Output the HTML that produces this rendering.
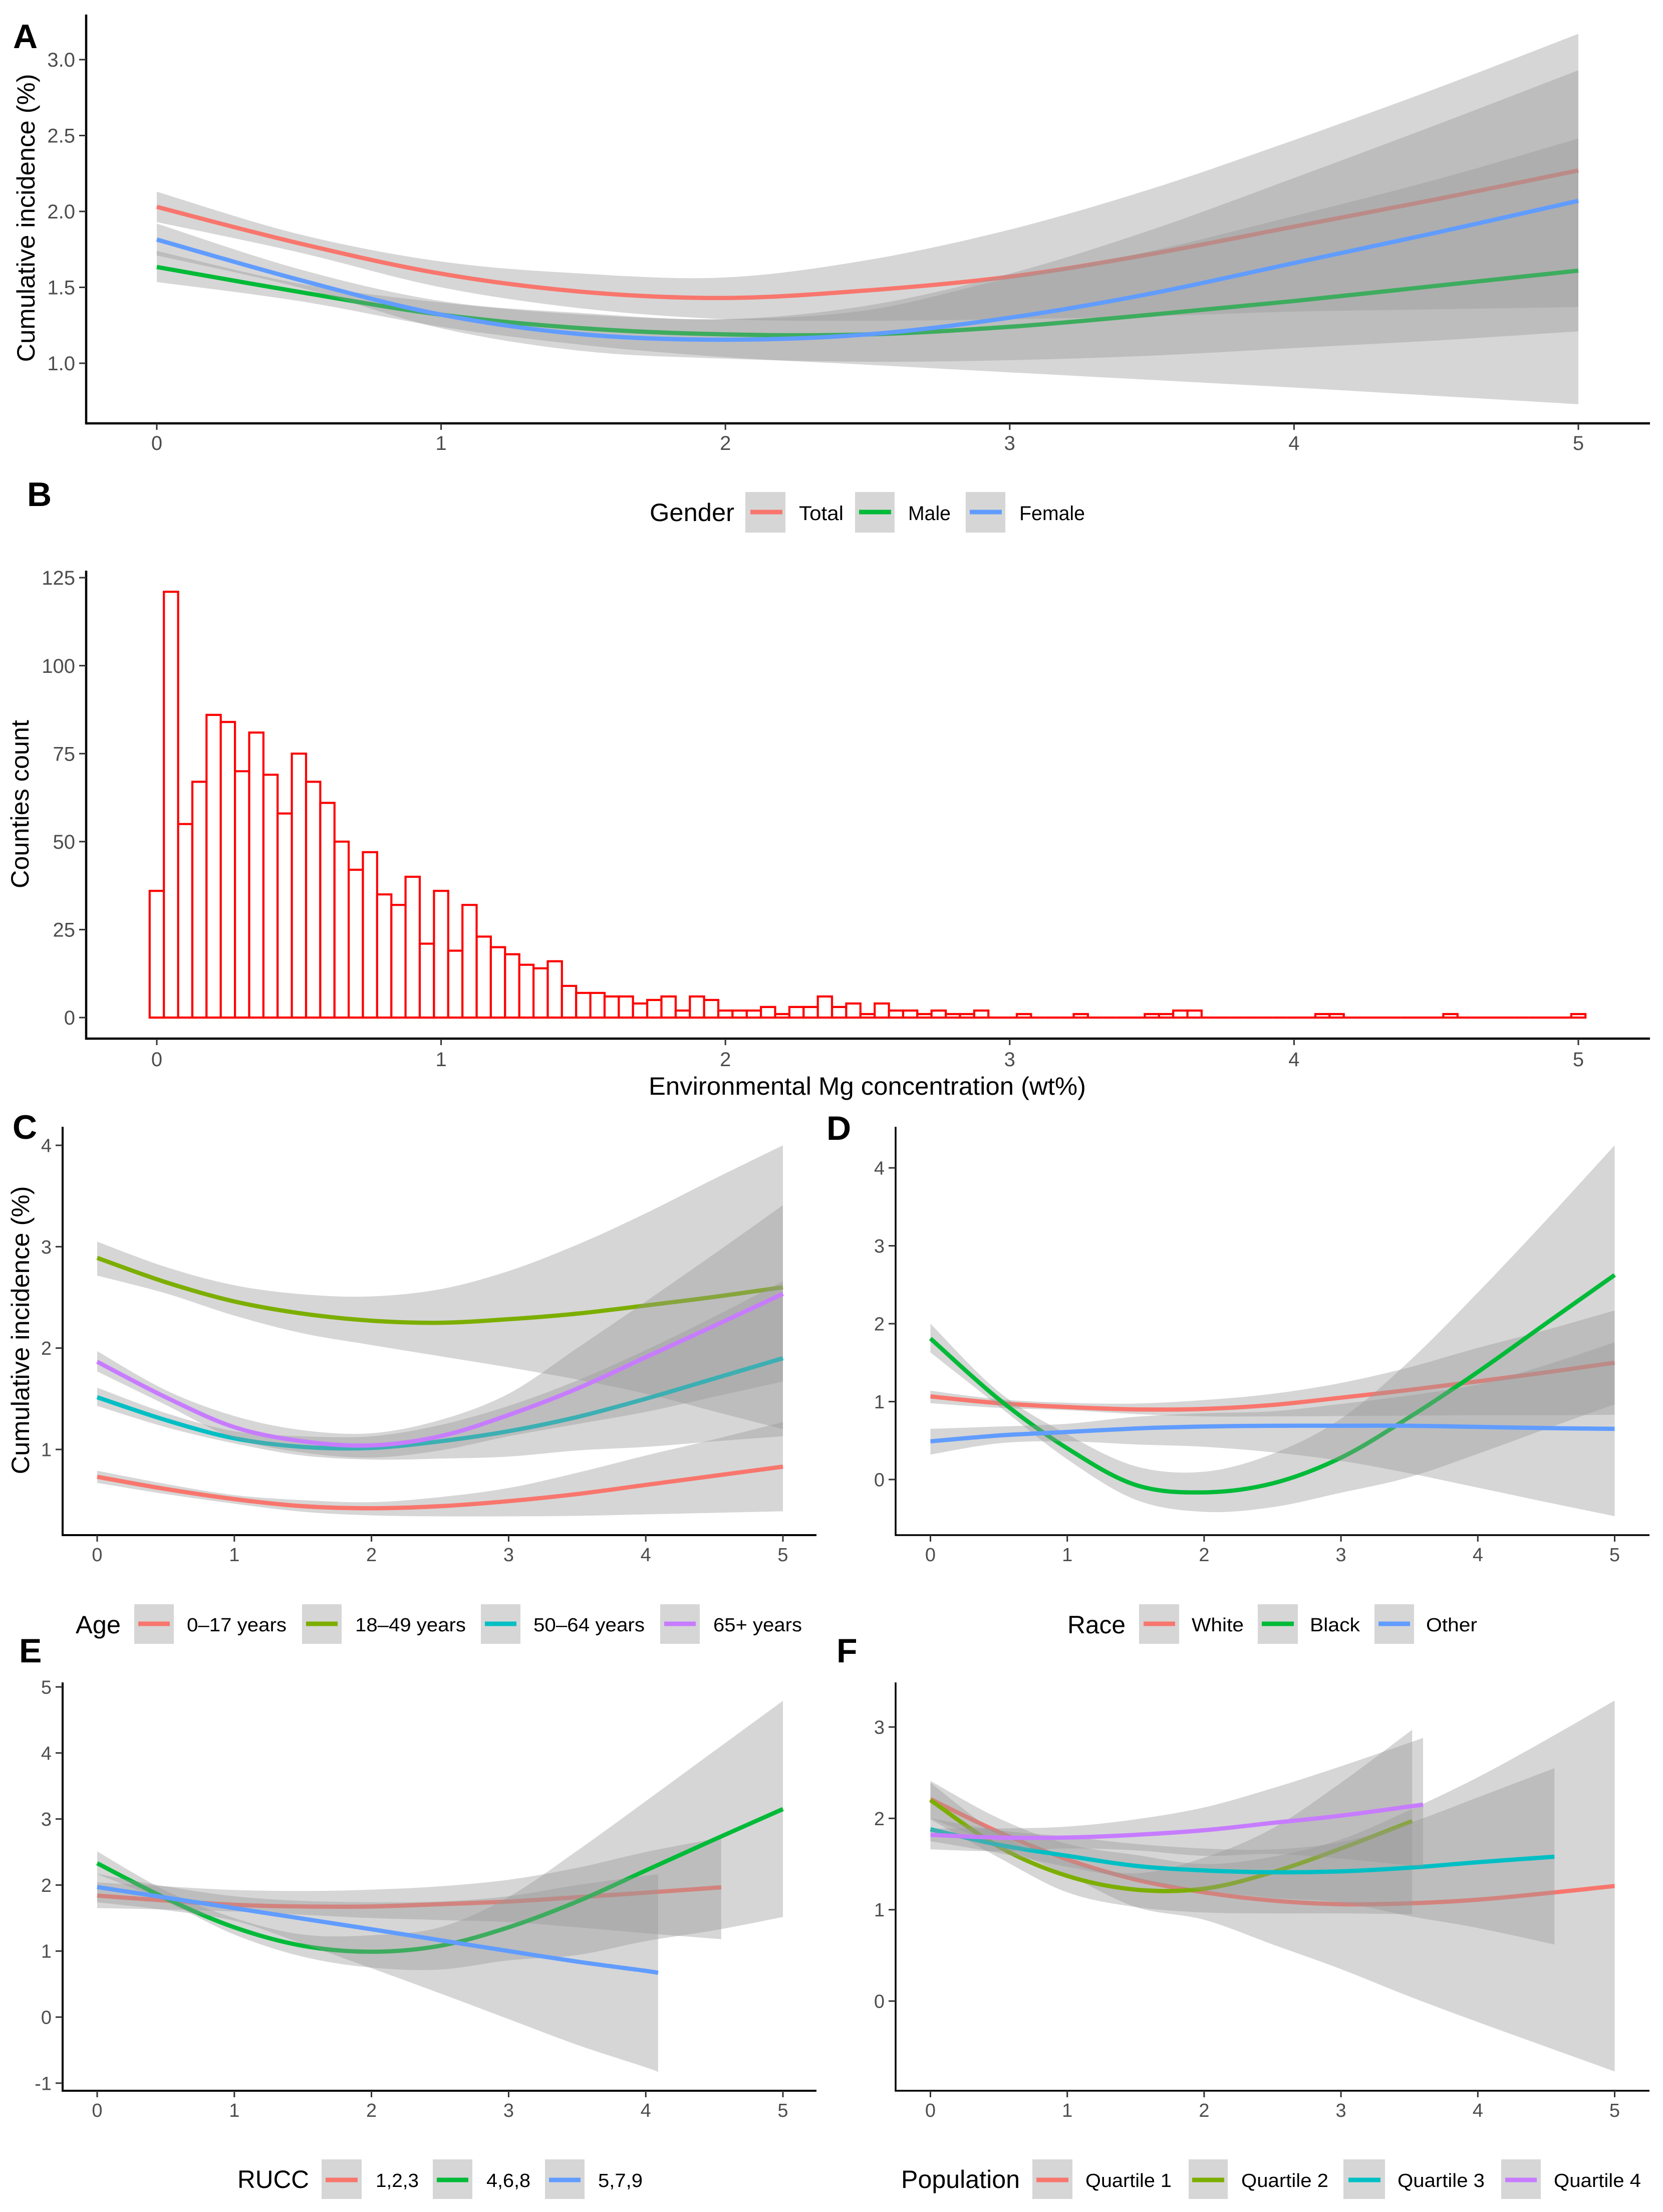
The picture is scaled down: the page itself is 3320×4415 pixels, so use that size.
<!DOCTYPE html>
<html>
<head>
<meta charset="utf-8">
<title>Cumulative incidence and environmental Mg concentration</title>
<style>
html,body{margin:0;padding:0;background:#fff;}
svg{display:block;}
text{font-family:"Liberation Sans",Arial,sans-serif;}
.t{font-size:50px;fill:#000;}
.p{font-size:68px;font-weight:bold;fill:#000;}
.k{fill:#d6d6d6;}
.l{font-size:40px;fill:#000;}
.m{font-size:38px;fill:#000;}
</style>
</head>
<body>
<svg id="figure" xmlns="http://www.w3.org/2000/svg" width="3320" height="4415" viewBox="0 0 3320 4415">
<rect x="0" y="0" width="3320" height="4415" fill="#fff"/>
<g id="plots"></g>

<text class="p" x="26" y="96">A</text>
<text class="p" x="54" y="1010">B</text>
<text class="p" x="25" y="2273">C</text>
<text class="p" x="1650" y="2275">D</text>
<text class="p" x="38" y="3318">E</text>
<text class="p" x="1670" y="3318">F</text>

<text class="t" transform="translate(69,435) rotate(-90)" text-anchor="middle" textLength="575" lengthAdjust="spacingAndGlyphs">Cumulative incidence (%)</text>
<text class="t" transform="translate(57,1605) rotate(-90)" text-anchor="middle" textLength="336" lengthAdjust="spacingAndGlyphs">Counties count</text>
<text class="t" x="1295" y="2185" textLength="873" lengthAdjust="spacingAndGlyphs">Environmental Mg concentration (wt%)</text>
<text class="t" transform="translate(58,2655) rotate(-90)" text-anchor="middle" textLength="575" lengthAdjust="spacingAndGlyphs">Cumulative incidence (%)</text>

<g>
<text class="t" x="1297" y="1040" textLength="169" lengthAdjust="spacingAndGlyphs">Gender</text>
<g><rect class="k" x="1488" y="982" width="80" height="81"/><line x1="1498" x2="1562" y1="1022" y2="1022" stroke="#F8766D" stroke-width="9"/><text class="l" x="1595" y="1038" textLength="89" lengthAdjust="spacingAndGlyphs">Total</text></g>
<g><rect class="k" x="1707" y="982" width="79" height="81"/><line x1="1715" x2="1779" y1="1022" y2="1022" stroke="#00BA38" stroke-width="9"/><text class="l" x="1813" y="1038" textLength="85" lengthAdjust="spacingAndGlyphs">Male</text></g>
<g><rect class="k" x="1928" y="982" width="79" height="81"/><line x1="1936" x2="2000" y1="1022" y2="1022" stroke="#619CFF" stroke-width="9"/><text class="l" x="2035" y="1038" textLength="131" lengthAdjust="spacingAndGlyphs">Female</text></g>
</g>

<g>
<text class="t" x="151" y="3260" textLength="90" lengthAdjust="spacingAndGlyphs">Age</text>
<g><rect class="k" x="268" y="3202" width="79" height="79"/><line x1="276" x2="339" y1="3241" y2="3241" stroke="#F8766D" stroke-width="9"/><text class="m" x="373" y="3256" textLength="199" lengthAdjust="spacingAndGlyphs">0–17 years</text></g>
<g><rect class="k" x="603" y="3202" width="79" height="79"/><line x1="611" x2="674" y1="3241" y2="3241" stroke="#7CAE00" stroke-width="9"/><text class="m" x="709" y="3256" textLength="221" lengthAdjust="spacingAndGlyphs">18–49 years</text></g>
<g><rect class="k" x="960" y="3202" width="79" height="79"/><line x1="968" x2="1031" y1="3241" y2="3241" stroke="#00BFC4" stroke-width="9"/><text class="m" x="1065" y="3256" textLength="222" lengthAdjust="spacingAndGlyphs">50–64 years</text></g>
<g><rect class="k" x="1318" y="3202" width="79" height="79"/><line x1="1326" x2="1389" y1="3241" y2="3241" stroke="#C77CFF" stroke-width="9"/><text class="m" x="1424" y="3256" textLength="177" lengthAdjust="spacingAndGlyphs">65+ years</text></g>
</g>

<g>
<text class="t" x="2131" y="3260" textLength="116" lengthAdjust="spacingAndGlyphs">Race</text>
<g><rect class="k" x="2274" y="3202" width="80" height="79"/><line x1="2283" x2="2346" y1="3241" y2="3241" stroke="#F8766D" stroke-width="9"/><text class="m" x="2379" y="3256" textLength="104" lengthAdjust="spacingAndGlyphs">White</text></g>
<g><rect class="k" x="2511" y="3202" width="80" height="79"/><line x1="2519" x2="2583" y1="3241" y2="3241" stroke="#00BA38" stroke-width="9"/><text class="m" x="2615" y="3256" textLength="100" lengthAdjust="spacingAndGlyphs">Black</text></g>
<g><rect class="k" x="2744" y="3202" width="79" height="79"/><line x1="2752" x2="2815" y1="3241" y2="3241" stroke="#619CFF" stroke-width="9"/><text class="m" x="2847" y="3256" textLength="102" lengthAdjust="spacingAndGlyphs">Other</text></g>
</g>

<g>
<text class="t" x="474" y="4367" textLength="143" lengthAdjust="spacingAndGlyphs">RUCC</text>
<g><rect class="k" x="642" y="4310" width="80" height="79"/><line x1="650" x2="714" y1="4351" y2="4351" stroke="#F8766D" stroke-width="9"/><text class="m" x="750" y="4365" textLength="86" lengthAdjust="spacingAndGlyphs">1,2,3</text></g>
<g><rect class="k" x="864" y="4310" width="79" height="79"/><line x1="872" x2="935" y1="4351" y2="4351" stroke="#00BA38" stroke-width="9"/><text class="m" x="971" y="4365" textLength="88" lengthAdjust="spacingAndGlyphs">4,6,8</text></g>
<g><rect class="k" x="1088" y="4310" width="79" height="79"/><line x1="1096" x2="1159" y1="4351" y2="4351" stroke="#619CFF" stroke-width="9"/><text class="m" x="1194" y="4365" textLength="89" lengthAdjust="spacingAndGlyphs">5,7,9</text></g>
</g>

<g>
<text class="t" x="1799" y="4367" textLength="237" lengthAdjust="spacingAndGlyphs">Population</text>
<g><rect class="k" x="2061" y="4310" width="80" height="79"/><line x1="2069" x2="2133" y1="4351" y2="4351" stroke="#F8766D" stroke-width="9"/><text class="m" x="2167" y="4365" textLength="172" lengthAdjust="spacingAndGlyphs">Quartile 1</text></g>
<g><rect class="k" x="2373" y="4310" width="78" height="79"/><line x1="2380" x2="2444" y1="4351" y2="4351" stroke="#7CAE00" stroke-width="9"/><text class="m" x="2478" y="4365" textLength="174" lengthAdjust="spacingAndGlyphs">Quartile 2</text></g>
<g><rect class="k" x="2682" y="4310" width="83" height="79"/><line x1="2692" x2="2756" y1="4351" y2="4351" stroke="#00BFC4" stroke-width="9"/><text class="m" x="2790" y="4365" textLength="174" lengthAdjust="spacingAndGlyphs">Quartile 3</text></g>
<g><rect class="k" x="2997" y="4310" width="79" height="79"/><line x1="3005" x2="3068" y1="4351" y2="4351" stroke="#C77CFF" stroke-width="9"/><text class="m" x="3102" y="4365" textLength="174" lengthAdjust="spacingAndGlyphs">Quartile 4</text></g>
</g>
</svg>

<script>
// Shared axis data
const xTickValues = [0, 1, 2, 3, 4, 5];
const xTickLabels = ['0', '1', '2', '3', '4', '5'];
const xFull = [0, 0.5, 1, 1.5, 2, 2.5, 3, 3.5, 4, 4.5, 5];

// Panel A: gender
const aYTicks = [1, 1.5, 2, 2.5, 3];
const aYLabels = ['1.0', '1.5', '2.0', '2.5', '3.0'];
const aTotalLine = [2.03, 1.79, 1.59, 1.47, 1.43, 1.48, 1.57, 1.72, 1.90, 2.08, 2.27];
const aTotalHi = [2.13, 1.85, 1.67, 1.59, 1.565, 1.68, 1.88, 2.15, 2.47, 2.81, 3.17];
const aTotalLo = [1.93, 1.73, 1.50, 1.36, 1.29, 1.28, 1.29, 1.31, 1.34, 1.355, 1.37];
const aMaleLine = [1.634, 1.47, 1.32, 1.23, 1.19, 1.19, 1.24, 1.32, 1.41, 1.51, 1.61];
const aMaleHi = [1.74, 1.525, 1.40, 1.32, 1.29, 1.35, 1.56, 1.74, 1.97, 2.21, 2.48];
const aMaleLo = [1.535, 1.41, 1.24, 1.12, 1.04, 0.99, 0.94, 0.89, 0.84, 0.785, 0.73];
const aFemaleLine = [1.815, 1.55, 1.32, 1.19, 1.155, 1.19, 1.30, 1.46, 1.66, 1.86, 2.07];
const aFemaleHi = [1.92, 1.62, 1.41, 1.33, 1.29, 1.38, 1.59, 1.88, 2.22, 2.57, 2.93];
const aFemaleLo = [1.71, 1.50, 1.23, 1.08, 1.03, 1.01, 1.02, 1.05, 1.10, 1.15, 1.21];

// Panel B: histogram
const bYTicks = [0, 25, 50, 75, 100, 125];
const bYLabels = ['0', '25', '50', '75', '100', '125'];
const bBinWidth = 0.05;
const bCounts = [36,121,55,67,86,84,70,81,69,58,75,67,61,50,42,47,35,32,40,21,36,19,32,23,20,18,15,14,16,9,
  7,7,6,6,4,5,6,2,6,5,2,2,2,3,1,3,3,6,3,4,1,4,2,2,1,2,1,1,2,0,
  0,1,0,0,0,1,0,0,0,0,1,1,2,2,0,0,0,0,0,0,0,0,1,1,0,0,0,0,0,0,0,1,0,0,0,0,0,0,0,0,1];

// Panel C: age
const cYTicks = [1, 2, 3, 4];
const cYLabels = ['1', '2', '3', '4'];
const cYoungLine = [0.73, 0.61, 0.51, 0.44, 0.42, 0.44, 0.49, 0.56, 0.65, 0.74, 0.83];
const cYoungHi = [0.79, 0.66, 0.55, 0.50, 0.48, 0.53, 0.62, 0.77, 0.94, 1.10, 1.27];
const cYoungLo = [0.67, 0.56, 0.465, 0.385, 0.35, 0.34, 0.34, 0.345, 0.36, 0.375, 0.39];
const cAdultLine = [2.89, 2.65, 2.46, 2.34, 2.27, 2.25, 2.285, 2.34, 2.42, 2.505, 2.60];
const cAdultHi = [3.05, 2.80, 2.62, 2.53, 2.51, 2.58, 2.76, 3.02, 3.33, 3.67, 4.0];
const cAdultLo = [2.715, 2.54, 2.32, 2.145, 2.03, 1.92, 1.81, 1.69, 1.55, 1.375, 1.20];
const cMidLine = [1.515, 1.29, 1.11, 1.025, 1.015, 1.08, 1.18, 1.32, 1.50, 1.70, 1.90];
const cMidHi = [1.61, 1.36, 1.18, 1.13, 1.13, 1.24, 1.43, 1.68, 1.98, 2.31, 2.66];
const cMidLo = [1.43, 1.22, 1.06, 0.94, 0.90, 0.91, 0.93, 0.99, 1.025, 1.08, 1.13];
const cOldLine = [1.865, 1.515, 1.22, 1.08, 1.04, 1.13, 1.34, 1.60, 1.91, 2.22, 2.535];
const cOldHi = [1.97, 1.585, 1.33, 1.19, 1.16, 1.29, 1.55, 2.0, 2.46, 2.93, 3.41];
const cOldLo = [1.77, 1.44, 1.11, 0.97, 0.92, 0.99, 1.13, 1.25, 1.37, 1.52, 1.67];

// Panel D: race
const dYTicks = [0, 1, 2, 3, 4];
const dYLabels = ['0', '1', '2', '3', '4'];
const dWhiteLine = [1.066, 0.98, 0.93, 0.90, 0.906, 0.957, 1.05, 1.15, 1.26, 1.375, 1.50];
const dWhiteHi = [1.14, 1.03, 0.985, 0.975, 1.02, 1.10, 1.24, 1.44, 1.69, 1.92, 2.17];
const dWhiteLo = [0.98, 0.92, 0.89, 0.84, 0.81, 0.81, 0.815, 0.82, 0.825, 0.825, 0.83];
const dBlackLine = [1.81, 1.03, 0.40, -0.07, -0.165, -0.05, 0.28, 0.80, 1.38, 2.005, 2.625];
const dBlackHi = [2.0, 1.125, 0.58, 0.17, 0.10, 0.33, 0.78, 1.52, 2.40, 3.33, 4.29];
const dBlackLo = [1.63, 0.94, 0.26, -0.26, -0.415, -0.355, -0.17, 0.03, 0.33, 0.65, 0.965];
const dOtherLine = [0.49, 0.565, 0.61, 0.655, 0.68, 0.69, 0.69, 0.69, 0.675, 0.66, 0.65];
const dOtherHi = [0.65, 0.68, 0.715, 0.805, 0.85, 0.875, 0.97, 1.08, 1.22, 1.47, 1.76];
const dOtherLo = [0.32, 0.465, 0.49, 0.45, 0.42, 0.35, 0.24, 0.08, -0.105, -0.29, -0.47];

// Panel E: RUCC
const eYTicks = [-1, 0, 1, 2, 3, 4, 5];
const eYLabels = ['-1', '0', '1', '2', '3', '4', '5'];
const eX123 = [0, 0.5, 1, 1.5, 2, 2.5, 3, 3.5, 4, 4.55];
const e123Line = [1.84, 1.765, 1.70, 1.675, 1.675, 1.71, 1.75, 1.815, 1.885, 1.965];
const e123Hi = [2.04, 1.98, 1.925, 1.91, 1.93, 1.98, 2.08, 2.26, 2.50, 2.72];
const e123Lo = [1.65, 1.63, 1.60, 1.55, 1.50, 1.47, 1.44, 1.36, 1.27, 1.18];
const e468Line = [2.33, 1.80, 1.36, 1.08, 0.99, 1.08, 1.36, 1.75, 2.22, 2.69, 3.15];
const e468Hi = [2.51, 1.915, 1.50, 1.25, 1.24, 1.36, 1.82, 2.52, 3.27, 4.03, 4.79];
const e468Lo = [2.165, 1.75, 1.25, 0.915, 0.75, 0.72, 0.86, 0.94, 1.15, 1.315, 1.515];
const eX579 = [0, 0.5, 1, 1.5, 2, 2.5, 3, 3.5, 4, 4.09];
const e579Line = [1.97, 1.81, 1.65, 1.49, 1.33, 1.165, 1.0, 0.84, 0.70, 0.67];
const e579Hi = [2.17, 1.98, 1.83, 1.76, 1.74, 1.75, 1.83, 2.0, 2.14, 2.16];
const e579Lo = [1.74, 1.62, 1.46, 1.11, 0.74, 0.36, -0.03, -0.42, -0.76, -0.83];

// Panel F: population
const fYTicks = [0, 1, 2, 3];
const fYLabels = ['0', '1', '2', '3'];
const fQ1Line = [2.21, 1.85, 1.55, 1.33, 1.19, 1.10, 1.06, 1.07, 1.11, 1.18, 1.26];
const fQ1Hi = [2.41, 2.0, 1.72, 1.60, 1.50, 1.58, 1.77, 2.09, 2.45, 2.86, 3.29];
const fQ1Lo = [2.0, 1.7, 1.38, 1.03, 0.89, 0.62, 0.35, 0.05, -0.23, -0.5, -0.77];
const fXQ2 = [0, 0.5, 1, 1.5, 2, 2.5, 3, 3.52];
const fQ2Line = [2.20, 1.69, 1.37, 1.22, 1.23, 1.41, 1.67, 1.97];
const fQ2Hi = [2.39, 1.83, 1.53, 1.40, 1.57, 1.89, 2.39, 2.97];
const fQ2Lo = [1.99, 1.57, 1.19, 1.03, 0.97, 0.96, 0.96, 0.95];
const fXQ3 = [0, 0.5, 1, 1.5, 2, 2.5, 3, 3.5, 4, 4.56];
const fQ3Line = [1.88, 1.71, 1.59, 1.48, 1.43, 1.41, 1.42, 1.46, 1.52, 1.58];
const fQ3Hi = [2.0, 1.87, 1.80, 1.72, 1.67, 1.66, 1.74, 1.95, 2.23, 2.55];
const fQ3Lo = [1.75, 1.62, 1.47, 1.33, 1.21, 1.13, 1.08, 0.93, 0.8, 0.62];
const fXQ4 = [0, 0.5, 1, 1.5, 2, 2.5, 3, 3.6];
const fQ4Line = [1.82, 1.79, 1.79, 1.82, 1.87, 1.95, 2.03, 2.15];
const fQ4Hi = [1.89, 1.89, 1.91, 1.99, 2.12, 2.33, 2.57, 2.88];
const fQ4Lo = [1.66, 1.64, 1.67, 1.65, 1.59, 1.61, 1.56, 1.47];

const RED = '#F8766D', GREEN = '#00BA38', BLUE = '#619CFF', OLIVE = '#7CAE00', TEAL = '#00BFC4', PURPLE = '#C77CFF';
const NS = 'http://www.w3.org/2000/svg';
const root = document.getElementById('plots');

function make(tag, attrs, parent) {
  const el = document.createElementNS(NS, tag);
  for (const k in attrs) el.setAttribute(k, attrs[k]);
  parent.appendChild(el);
  return el;
}

// Linear scale through two anchor pairs
function scale(d0, r0, d1, r1) {
  return v => r0 + (v - d0) * (r1 - r0) / (d1 - d0);
}

// Smooth segments through points (Catmull-Rom to Bezier)
function curve(pts) {
  let d = '';
  for (let i = 0; i < pts.length - 1; i++) {
    const p0 = pts[Math.max(i - 1, 0)], p1 = pts[i], p2 = pts[i + 1], p3 = pts[Math.min(i + 2, pts.length - 1)];
    const c1x = p1[0] + (p2[0] - p0[0]) / 6, c1y = p1[1] + (p2[1] - p0[1]) / 6;
    const c2x = p2[0] - (p3[0] - p1[0]) / 6, c2y = p2[1] - (p3[1] - p1[1]) / 6;
    d += 'C' + c1x.toFixed(1) + ' ' + c1y.toFixed(1) + ' ' + c2x.toFixed(1) + ' ' + c2y.toFixed(1) + ' ' + p2[0].toFixed(1) + ' ' + p2[1].toFixed(1);
  }
  return d;
}

function toPts(xs, ys, sx, sy) {
  return xs.map((x, i) => [sx(x), sy(ys[i])]);
}

function drawSeries(g, name, color, xs, line, hi, lo, sx, sy) {
  const up = toPts(xs, hi, sx, sy);
  const down = toPts(xs, lo, sx, sy).reverse();
  const bandD = 'M' + up[0][0].toFixed(1) + ' ' + up[0][1].toFixed(1) + curve(up) +
    'L' + down[0][0].toFixed(1) + ' ' + down[0][1].toFixed(1) + curve(down) + 'Z';
  const band = make('path', { d: bandD, fill: '#999999', 'fill-opacity': 0.4 }, g);
  
  
  const pts = toPts(xs, line, sx, sy);
  const lineD = 'M' + pts[0][0].toFixed(1) + ' ' + pts[0][1].toFixed(1) + curve(pts);
  const path = make('path', { d: lineD, fill: 'none', stroke: color, 'stroke-width': 8.5 }, g);
  
  
}

function drawAxes(g, id, o) {
  const yLine = make('line', { x1: o.left, x2: o.left, y1: o.top, y2: o.bottom + o.w / 2, stroke: '#000', 'stroke-width': o.w }, g);
  
  
  const xLine = make('line', { x1: o.left, x2: o.right, y1: o.bottom, y2: o.bottom, stroke: '#000', 'stroke-width': o.w }, g);
  
  
  xTickValues.forEach((v, i) => {
    const x = o.sx(v);
    const t = make('line', { x1: x, x2: x, y1: o.bottom, y2: o.bottom + 13, stroke: '#333', 'stroke-width': 3 }, g);
    
    
    const lab = make('text', { x: x, y: o.xLabelY, 'text-anchor': 'middle', fill: '#4d4d4d', 'font-size': o.font }, g);
    lab.textContent = xTickLabels[i];
    
    
  });
  o.yTicks.forEach((v, i) => {
    const y = o.sy(v);
    const t = make('line', { x1: o.left - 14, x2: o.left, y1: y, y2: y, stroke: '#333', 'stroke-width': 3 }, g);
    
    
    const lab = make('text', { x: o.left - 22, y: y + o.font * 0.355, 'text-anchor': 'end', fill: '#4d4d4d', 'font-size': o.font }, g);
    lab.textContent = o.yLabels[i];
    
    
  });
}

function panel(id, o, series) {
  const g = make('g', {}, root);
  
  
  series.forEach(s => drawSeries(g, id + '-' + s[0], s[1], s[2], s[3], s[4], s[5], o.sx, o.sy));
  drawAxes(g, id, o);
}

// Panel A
panel('panel-a', {
  left: 172, right: 3294, top: 29, bottom: 845, w: 4.5, font: 40, xLabelY: 898,
  sx: scale(0, 313, 5, 3151), sy: scale(1, 725, 3, 119), yTicks: aYTicks, yLabels: aYLabels
}, [
  ['total', RED, xFull, aTotalLine, aTotalHi, aTotalLo],
  ['male', GREEN, xFull, aMaleLine, aMaleHi, aMaleLo],
  ['female', BLUE, xFull, aFemaleLine, aFemaleHi, aFemaleLo]
]);

// Panel B
(function () {
  const sx = scale(0, 313, 5, 3151);
  const sy = scale(0, 2031, 125, 1153);
  const g = make('g', {}, root);
  
  
  bCounts.forEach((c, i) => {
    const x0 = sx(i * bBinWidth - bBinWidth / 2).toFixed(1);
    const x1 = sx(i * bBinWidth + bBinWidth / 2).toFixed(1);
    const y0 = sy(0).toFixed(1);
    const y1 = sy(c).toFixed(1);
    const d = 'M' + x0 + ' ' + y0 + 'V' + y1 + 'H' + x1 + 'V' + y0 + 'Z';
    const bar = make('path', { d: d, fill: '#fff', stroke: '#ff0000', 'stroke-width': 4.2, 'stroke-linejoin': 'miter' }, g);
    
    
  });
  drawAxes(g, 'panel-b', {
    left: 172, right: 3294, top: 1139, bottom: 2073, w: 4.5, font: 40, xLabelY: 2128,
    sx: sx, sy: sy, yTicks: bYTicks, yLabels: bYLabels
  });
})();

// Panel C
panel('panel-c', {
  left: 125, right: 1630, top: 2249, bottom: 3064, w: 4, font: 38, xLabelY: 3116,
  sx: scale(0, 194, 5, 1563), sy: scale(1, 2893, 4, 2286), yTicks: cYTicks, yLabels: cYLabels
}, [
  ['age-0-17', RED, xFull, cYoungLine, cYoungHi, cYoungLo],
  ['age-18-49', OLIVE, xFull, cAdultLine, cAdultHi, cAdultLo],
  ['age-50-64', TEAL, xFull, cMidLine, cMidHi, cMidLo],
  ['age-65-plus', PURPLE, xFull, cOldLine, cOldHi, cOldLo]
]);

// Panel D
panel('panel-d', {
  left: 1788, right: 3293, top: 2249, bottom: 3064, w: 3.5, font: 38, xLabelY: 3116,
  sx: scale(0, 1857.5, 5, 3223.5), sy: scale(0, 2953, 4, 2331), yTicks: dYTicks, yLabels: dYLabels
}, [
  ['white', RED, xFull, dWhiteLine, dWhiteHi, dWhiteLo],
  ['black', GREEN, xFull, dBlackLine, dBlackHi, dBlackLo],
  ['other', BLUE, xFull, dOtherLine, dOtherHi, dOtherLo]
]);

// Panel E
panel('panel-e', {
  left: 125, right: 1630, top: 3358, bottom: 4173, w: 4, font: 38, xLabelY: 4225,
  sx: scale(0, 194, 5, 1563), sy: scale(0, 4026, 5, 3367), yTicks: eYTicks, yLabels: eYLabels
}, [
  ['rucc-123', RED, eX123, e123Line, e123Hi, e123Lo],
  ['rucc-468', GREEN, xFull, e468Line, e468Hi, e468Lo],
  ['rucc-579', BLUE, eX579, e579Line, e579Hi, e579Lo]
]);

// Panel F
panel('panel-f', {
  left: 1788, right: 3293, top: 3358, bottom: 4173, w: 3.5, font: 38, xLabelY: 4225,
  sx: scale(0, 1857.5, 5, 3223.5), sy: scale(0, 3994, 3, 3447), yTicks: fYTicks, yLabels: fYLabels
}, [
  ['quartile-1', RED, xFull, fQ1Line, fQ1Hi, fQ1Lo],
  ['quartile-2', OLIVE, fXQ2, fQ2Line, fQ2Hi, fQ2Lo],
  ['quartile-3', TEAL, fXQ3, fQ3Line, fQ3Hi, fQ3Lo],
  ['quartile-4', PURPLE, fXQ4, fQ4Line, fQ4Hi, fQ4Lo]
]);
</script>
</body>
</html>
